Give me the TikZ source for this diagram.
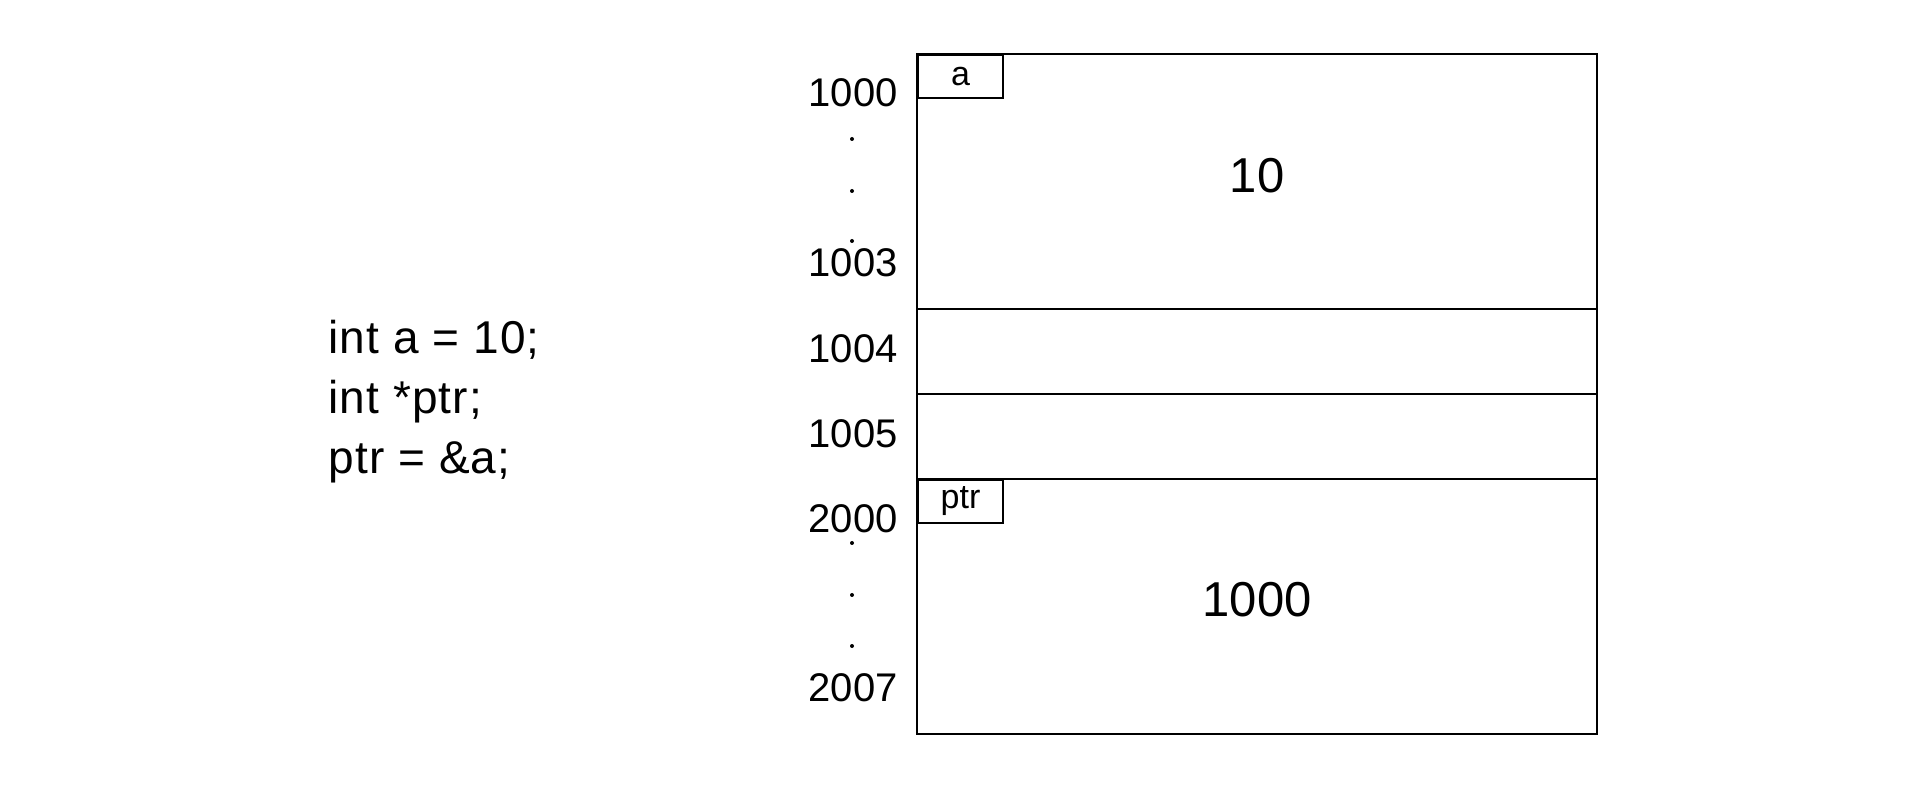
\documentclass[tikz,border=0pt]{standalone}
\usepackage{fontspec}
\setmainfont{Liberation Sans}
\newfontfamily\codefont[LetterSpace=2.5]{Liberation Sans}
\usetikzlibrary{positioning}

\tikzset{
  memline/.style={line width=1pt},
  tagbox/.style={draw, line width=1pt, anchor=north west, inner sep=0pt,
    minimum width=42.5pt, minimum height=21.5pt, font=\fontsize{17}{20}\selectfont},
  addr/.style={anchor=east, inner sep=0pt, font=\fontsize{20}{24}\selectfont},
  valtext/.style={inner sep=0pt, font=\fontsize{24.5}{29}\selectfont},
  codeline/.style={anchor=base west, inner sep=0pt, font=\codefont\fontsize{23}{27}\selectfont}
}

\begin{document}
\begin{tikzpicture}[x=0.5pt,y=0.5pt]
    \useasboundingbox (0,0) rectangle (1920,787);

    % Define the cell unit and the memory edges
    \def\U{85}
    \def\XL{917}
    \def\XR{1597}
    \def\YT{733}

    % Corners of the memory cells
    \coordinate (M0) at (\XL,\YT);
    \coordinate (M3) at (\XL,{\YT-3*\U});
    \coordinate (M4) at (\XL,{\YT-4*\U});
    \coordinate (M5) at (\XL,{\YT-5*\U});
    \coordinate (M8) at (\XR,{\YT-8*\U});

    % Draw the memory block and the dividers
    \draw[memline] (M0) rectangle (M8);
    \draw[memline] (M3) -- ++(8*\U,0);
    \draw[memline] (M4) -- ++(8*\U,0);
    \draw[memline] (M5) -- ++(8*\U,0);

    % Variable name tags
    \node[tagbox] (taga) at (M0) {a};
    \node[tagbox] (tagptr) at (M5) {ptr};

    % Stored values
    \node[valtext] (vala) at (1257,611) {10};
    \node[valtext] (valptr) at (1257,187) {1000};

    % Addresses on the left
    \node[addr] (ad1000) at (898,694) {1000};
    \node[addr] (ad1003) at (898,524) {1003};
    \node[addr] (ad1004) at (898,438) {1004};
    \node[addr] (ad1005) at (898,353) {1005};
    \node[addr] (ad2000) at (898,268) {2000};
    \node[addr] (ad2007) at (898,99) {2007};

    % Dots between the addresses
    \foreach \y in {648,596,546,244,192,141}
        \fill (852,\y) circle (2);

    % The code
    \node[codeline] (code1) at (328,433) {int a = 10;};
    \node[codeline] (code2) at (328,373) {int *ptr;};
    \node[codeline] (code3) at (328,313) {ptr = \&a;};
\end{tikzpicture}
\end{document}
